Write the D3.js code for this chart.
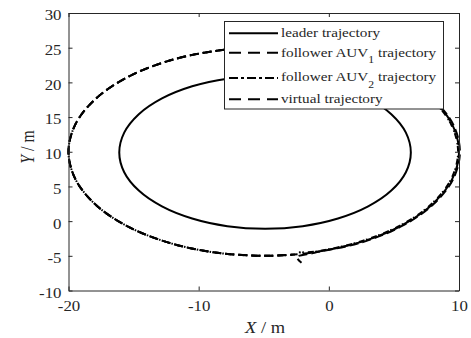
<!DOCTYPE html>
<html>
<head>
<meta charset="utf-8">
<script src="https://cdn.jsdelivr.net/npm/d3@7"></script>
<style>
  body { margin: 0; background: #fff; }
  svg { display: block; }
  text { font-family: "Liberation Serif", "Times New Roman", serif; fill: #262626; }
</style>
</head>
<body>
<svg id="chart" width="471" height="338"></svg>
<script>
// Axis ticks
const xTicks = [-20, -10, 0, 10];
const yTicks = [-10, -5, 0, 5, 10, 15, 20, 25, 30];

// Leader trajectory waypoints (x, y) in metres, closed loop
const leaderPath = [
  [6.30, 9.90], [5.92, 12.75], [4.80, 15.40], [3.02, 17.68], [0.70, 19.43], [-2.00, 20.53],
  [-4.90, 20.90], [-7.80, 20.53], [-10.50, 19.43], [-12.82, 17.68], [-14.60, 15.40], [-15.72, 12.75],
  [-16.10, 9.90], [-15.72, 7.05], [-14.60, 4.40], [-12.82, 2.12], [-10.50, 0.37], [-7.80, -0.73],
  [-4.90, -1.10], [-2.00, -0.73], [0.70, 0.37], [3.02, 2.12], [4.80, 4.40], [5.92, 7.05]
];

// Virtual trajectory waypoints
const virtualPath = [
  [-2.00, -4.70], [-1.12, -4.49], [2.50, -2.99], [5.61, -0.61], [7.99, 2.50], [9.49, 6.12],
  [10.00, 10.00], [9.49, 13.88], [7.99, 17.50], [5.61, 20.61], [2.50, 22.99], [-1.12, 24.49],
  [-5.00, 25.00], [-8.88, 24.49], [-12.50, 22.99], [-15.61, 20.61], [-17.99, 17.50], [-19.49, 13.88],
  [-20.00, 10.00], [-19.49, 6.12], [-17.99, 2.50], [-15.61, -0.61], [-12.50, -2.99], [-8.88, -4.49],
  [-5.00, -5.00], [-2.40, -4.77]
];

// Follower AUV1 trajectory waypoints
const auv1Path = [
  [-2.10, -6.00], [-2.45, -5.20], [-1.10, -4.56], [2.54, -3.05], [5.66, -0.66], [8.05, 2.47], [9.56, 6.10],
  [10.07, 10.00], [9.56, 13.90], [8.02, 17.52], [5.61, 20.61], [2.50, 22.99], [-1.12, 24.49],
  [-5.00, 25.00], [-8.88, 24.49], [-12.50, 22.99], [-15.61, 20.61], [-17.99, 17.50], [-19.49, 13.88],
  [-20.00, 10.00], [-19.49, 6.12], [-17.99, 2.50], [-15.61, -0.61], [-12.50, -2.99], [-8.88, -4.49],
  [-5.00, -5.00], [-2.60, -4.80]
];

// Follower AUV2 trajectory waypoints
const auv2Path = [
  [-2.30, -4.50], [-1.14, -4.42], [2.46, -2.93], [5.56, -0.56], [7.93, 2.54], [9.42, 6.14],
  [9.93, 10.00], [9.42, 13.86], [7.96, 17.47], [5.61, 20.61], [2.50, 22.99], [-1.12, 24.49],
  [-5.00, 25.00], [-8.88, 24.49], [-12.50, 22.99], [-15.61, 20.61], [-17.99, 17.50], [-19.49, 13.88],
  [-20.00, 10.00], [-19.49, 6.12], [-17.99, 2.50], [-15.61, -0.61], [-12.50, -2.99], [-8.88, -4.49],
  [-5.00, -5.00], [-2.80, -4.85]
];

// Legend text: main part, subscript, remainder
const legendMain = ["leader trajectory", "follower AUV", "follower AUV", "virtual trajectory"];
const legendSub  = ["", "1", "2", ""];
const legendTail = ["", " trajectory", " trajectory", ""];

// Dash patterns: [start, length] pieces within one 13 px period
const PERIOD = 13;
const DASH = [[0, 9]];
const DASHDOT = [[0, 6], [7.5, 1.5]];
const legendDash = [null, "12,7", "9,3,3,3", "12,7"];

const svg = d3.select("#chart");
const plot = { left: 68.5, right: 459, top: 13, bottom: 290.5 };
const x = d3.scaleLinear().domain([-20, 10]).range([plot.left, plot.right]);
const y = d3.scaleLinear().domain([-10, 30]).range([plot.bottom, plot.top]);
const axisColor = "#262626";
const stretch = 1.17;   // glyph width factor of the figure's typeface

const line = d3.line().x(d => x(d[0])).y(d => y(d[1])).curve(d3.curveCatmullRom.alpha(0.5));
const closedLine = d3.line().x(d => x(d[0])).y(d => y(d[1])).curve(d3.curveCatmullRomClosed.alpha(0.5));

// Curves
const curves = svg.append("g").attr("fill", "none").attr("stroke", "#000").attr("stroke-width", 2);
curves.append("path").attr("d", closedLine(leaderPath));

// Length along a path to the point nearest the top of the loop
const apex = [x(-5), y(25)];
function lengthToApex(node) {
  const total = node.getTotalLength();
  let best = 0, bestD = Infinity;
  for (let l = 0; l <= total; l += 0.5) {
    const p = node.getPointAtLength(l);
    const d = (p.x - apex[0]) ** 2 + (p.y - apex[1]) ** 2;
    if (d < bestD) { bestD = d; best = l; }
  }
  return best;
}

// Heading angle (deg, unwrapped along the loop) of a point on the path
function loopAngle(node, l, total) {
  const p = node.getPointAtLength(Math.max(0, Math.min(total, l)));
  let a = Math.atan2(y.invert(p.y) - 10, x.invert(p.x) + 5) * 180 / Math.PI;
  if (l > total / 2 && a < 0) a += 360;
  return a;
}

// Build an explicit dash list: the pattern repeats every PERIOD px from the apex,
// slipped by shift(angle) px where overlapping dashes interleave
function drawTrajectory(data, pieces, shift) {
  const p = curves.append("path").attr("d", line(data));
  const node = p.node();
  const total = node.getTotalLength();
  const la = lengthToApex(node);
  const on = [];
  for (let k = Math.floor(-la / PERIOD) - 2; k <= Math.ceil((total - la) / PERIOD) + 2; k++) {
    const base = la + k * PERIOD;
    const s = shift(loopAngle(node, base, total));
    pieces.forEach(([o, len]) => {
      const a = Math.max(0, base + s + o), b = Math.min(total, base + s + o + len);
      if (b > a) on.push([a, b]);
    });
  }
  on.sort((u, v) => u[0] - v[0]);
  const merged = [];
  on.forEach(iv => {
    const last = merged[merged.length - 1];
    if (last && iv[0] <= last[1]) last[1] = Math.max(last[1], iv[1]);
    else merged.push(iv.slice());
  });
  const dashes = [];
  if (merged.length && merged[0][0] > 0) dashes.push(0, merged[0][0]);
  merged.forEach((iv, i) => {
    const next = i + 1 < merged.length ? merged[i + 1][0] : total + 50;
    dashes.push(iv[1] - iv[0], next - iv[1]);
  });
  p.attr("stroke-dasharray", dashes.map(v => v.toFixed(2)).join(","));
  return p;
}

drawTrajectory(auv1Path, DASH, a => (a < 45 ? 6.5 : 0));
drawTrajectory(auv2Path, DASHDOT, a => (a < 45 ? 7 : a < 160 ? 0 : a < 255 ? 2.75 : 0));
drawTrajectory(virtualPath, DASH, () => 0);

// Axes: bottom, left, and mirrored top/right with inward ticks
const tickLen = 4;
const fmt = d => String(d);
const axisB = d3.axisBottom(x).tickValues(xTicks).tickFormat(fmt).tickSizeInner(-tickLen).tickSizeOuter(0);
const axisL = d3.axisLeft(y).tickValues(yTicks).tickFormat(fmt).tickSizeInner(-tickLen).tickSizeOuter(0);
const axisT = d3.axisTop(x).tickValues(xTicks).tickSizeInner(-tickLen).tickSizeOuter(0).tickFormat("");
const axisR = d3.axisRight(y).tickValues(yTicks).tickSizeInner(-tickLen).tickSizeOuter(0).tickFormat("");

function styleAxis(g) {
  g.attr("font-family", null).attr("font-size", null);
  g.selectAll("path").attr("stroke", axisColor);
  g.selectAll("line").attr("stroke", axisColor);
  g.selectAll("text").attr("fill", axisColor).style("font-size", "14.4px");
}
const gB = svg.append("g").attr("transform", `translate(0,${plot.bottom})`).call(axisB).call(styleAxis);
gB.selectAll(".tick text").attr("y", 0).attr("dy", "0.71em")
  .attr("transform", `translate(0,10.5) scale(${stretch},1)`);
const gL = svg.append("g").attr("transform", `translate(${plot.left},0)`).call(axisL).call(styleAxis);
gL.selectAll(".tick text").attr("x", 0).attr("dy", "0.48em")
  .attr("transform", `translate(-7,0) scale(${stretch},1)`);
svg.append("g").attr("transform", `translate(0,${plot.top})`).call(axisT).call(styleAxis);
svg.append("g").attr("transform", `translate(${plot.right},0)`).call(axisR).call(styleAxis);

// Axis titles
const xl = svg.append("text").attr("transform", `translate(265,333) scale(${stretch},1)`)
  .attr("text-anchor", "middle").style("font-size", "15.8px");
xl.append("tspan").style("font-style", "italic").text("X");
xl.append("tspan").text(" / m");
const yl = svg.append("text").attr("transform", `translate(34,147) rotate(-90) scale(1,${stretch})`)
  .attr("text-anchor", "middle").style("font-size", "15.8px");
yl.append("tspan").style("font-style", "italic").text("Y");
yl.append("tspan").text(" / m");

// Legend
const lg = svg.append("g");
lg.append("rect").attr("x", 224.5).attr("y", 21.5).attr("width", 219).attr("height", 87.5)
  .attr("fill", "#fff").attr("stroke", axisColor).attr("stroke-width", 1);
const rowY = [33.3, 52.7, 78, 99.3];
const rowBase = [37.3, 56.7, 81, 103.3];
legendMain.forEach((t, i) => {
  lg.append("line").attr("x1", 229).attr("x2", 278).attr("y1", rowY[i]).attr("y2", rowY[i])
    .attr("stroke", "#000").attr("stroke-width", 2)
    .attr("stroke-dasharray", legendDash[i]);
  const tx = lg.append("text").attr("transform", `translate(281,${rowBase[i]}) scale(${stretch},1)`)
    .style("font-size", "13px");
  tx.append("tspan").text(t);
  if (legendSub[i]) {
    tx.append("tspan").attr("dy", 6.5).style("font-size", "10px").text(legendSub[i]);
    tx.append("tspan").attr("dy", -6.5).text(legendTail[i]);
  }
});
</script>
</body>
</html>
